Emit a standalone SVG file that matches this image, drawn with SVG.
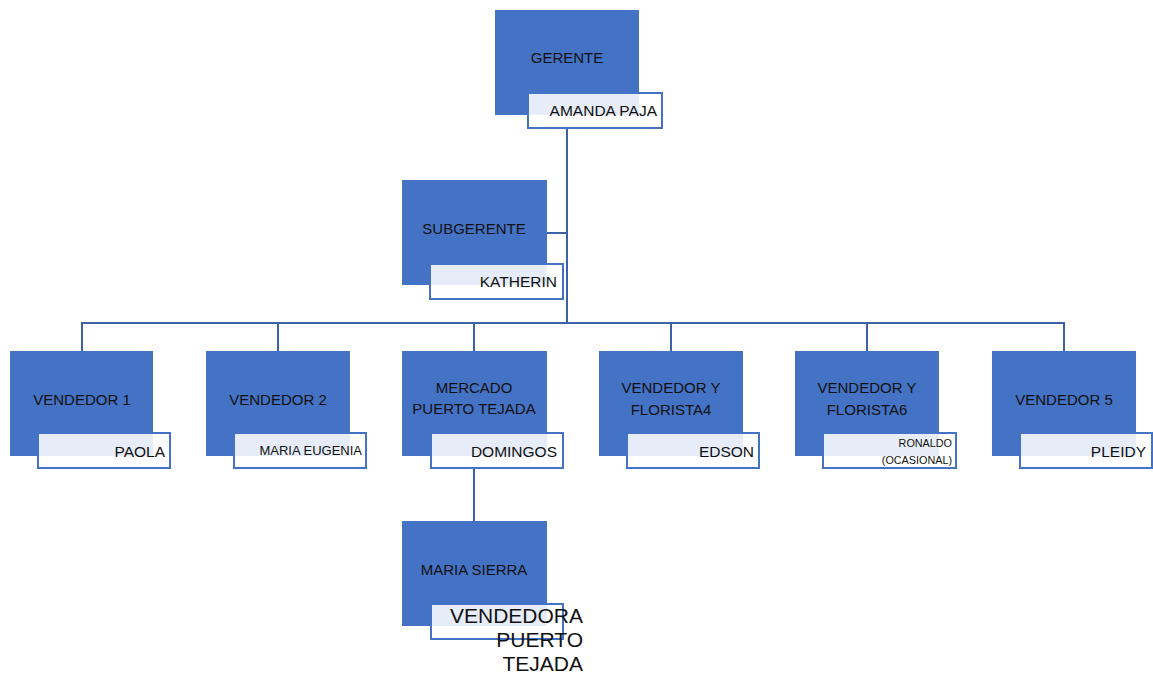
<svg xmlns="http://www.w3.org/2000/svg" width="1153" height="673" viewBox="0 0 1153 673">
  <style>
    .box { fill: #4472C4; }
    .tag { fill: #FFFFFF; fill-opacity: 0.87; stroke: #4472C4; stroke-width: 2; }
    .title { font-family: "Liberation Sans", Arial, sans-serif; font-size: 15px; fill: #111111; text-anchor: middle; }
    .name { font-family: "Liberation Sans", Arial, sans-serif; font-size: 15.5px; fill: #111111; text-anchor: end; }
    .link { stroke: #3D62A8; stroke-width: 2; fill: none; }
  </style>
  <rect width="1153" height="673" fill="#FFFFFF"/>

  <!-- connectors -->
  <g id="connectors" class="link">
    <line x1="567" y1="128" x2="567" y2="323"/>
    <line x1="547" y1="233" x2="567" y2="233"/>
    <line x1="81" y1="323" x2="1065" y2="323"/>
    <line x1="82" y1="323" x2="82" y2="351"/>
    <line x1="278" y1="323" x2="278" y2="351"/>
    <line x1="474" y1="323" x2="474" y2="351"/>
    <line x1="671" y1="323" x2="671" y2="351"/>
    <line x1="867" y1="323" x2="867" y2="351"/>
    <line x1="1064" y1="323" x2="1064" y2="351"/>
    <line x1="474" y1="469" x2="474" y2="521"/>
  </g>

  <g id="gerente">
    <rect class="box" x="495" y="10" width="144" height="105"/>
    <text class="title" x="567" y="63">GERENTE</text>
    <rect class="tag" x="528" y="93" width="134" height="35"/>
    <text class="name" x="657" y="116">AMANDA PAJA</text>
  </g>

  <g id="subgerente">
    <rect class="box" x="402" y="180" width="145" height="105"/>
    <text class="title" x="474" y="234">SUBGERENTE</text>
    <rect class="tag" x="430" y="264" width="133" height="35"/>
    <text class="name" x="557" y="287">KATHERIN</text>
  </g>

  <g id="vendedor1">
    <rect class="box" x="10" y="351" width="143" height="105"/>
    <text class="title" x="82" y="405">VENDEDOR 1</text>
    <rect class="tag" x="38" y="433" width="132" height="35"/>
    <text class="name" x="165" y="457">PAOLA</text>
  </g>

  <g id="vendedor2">
    <rect class="box" x="206" y="351" width="144" height="105"/>
    <text class="title" x="278" y="405">VENDEDOR 2</text>
    <rect class="tag" x="234" y="433" width="132" height="35"/>
    <text class="name" x="362" y="455" style="font-size:13px">MARIA EUGENIA</text>
  </g>

  <g id="mercado">
    <rect class="box" x="402" y="351" width="145" height="105"/>
    <text class="title" x="474" y="393">MERCADO</text>
    <text class="title" x="474" y="414">PUERTO TEJADA</text>
    <rect class="tag" x="431" y="433" width="132" height="35"/>
    <text class="name" x="557" y="457">DOMINGOS</text>
  </g>

  <g id="florista4">
    <rect class="box" x="599" y="351" width="144" height="105"/>
    <text class="title" x="671" y="393">VENDEDOR Y</text>
    <text class="title" x="671" y="415">FLORISTA4</text>
    <rect class="tag" x="627" y="433" width="132" height="35"/>
    <text class="name" x="754" y="457">EDSON</text>
  </g>

  <g id="florista6">
    <rect class="box" x="795" y="351" width="144" height="105"/>
    <text class="title" x="867" y="393">VENDEDOR Y</text>
    <text class="title" x="867" y="415">FLORISTA6</text>
    <rect class="tag" x="823" y="433" width="133" height="35"/>
    <text class="name" x="952" y="447" style="font-size:10.8px">RONALDO</text>
    <text class="name" x="952" y="464" style="font-size:10.8px">(OCASIONAL)</text>
  </g>

  <g id="vendedor5">
    <rect class="box" x="992" y="351" width="144" height="105"/>
    <text class="title" x="1064" y="405">VENDEDOR 5</text>
    <rect class="tag" x="1020" y="433" width="132" height="35"/>
    <text class="name" x="1146" y="457">PLEIDY</text>
  </g>

  <g id="maria-sierra">
    <rect class="box" x="402" y="521" width="145" height="105"/>
    <text class="title" x="474" y="575">MARIA SIERRA</text>
    <rect class="tag" x="431" y="604" width="132" height="35"/>
    <text class="name" x="583" y="623" style="font-size:21px">VENDEDORA</text>
    <text class="name" x="583" y="647" style="font-size:21px">PUERTO</text>
    <text class="name" x="583" y="671" style="font-size:21px">TEJADA</text>
  </g>
</svg>
